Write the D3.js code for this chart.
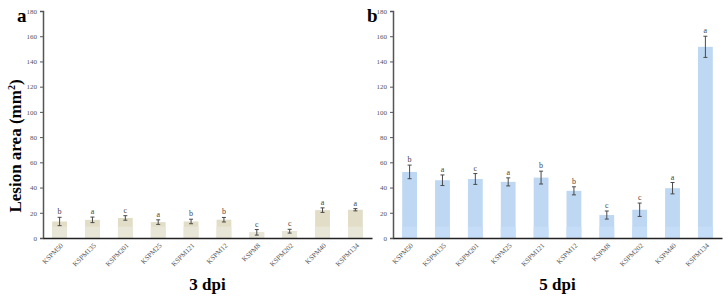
<!DOCTYPE html>
<html>
<head>
<meta charset="utf-8">
<script src="https://cdn.jsdelivr.net/npm/d3@7"></script>
<style>
  body { margin: 0; background: #fff; }
  svg { display: block; font-family: "Liberation Serif", "Times New Roman", serif; }
</style>
</head>
<body>
<script>
// strains, same order in both panels
var strains = ["KSPM50", "KSPM135", "KSPM201", "KSPM25", "KSPM121", "KSPM12", "KSPM8", "KSPM202", "KSPM40", "KSPM134"];
var letters = ["b", "a", "c", "a", "b", "b", "c", "c", "a", "a"];

// lesion area (mm2), mean and error
var dpi3Mean = [13.1, 14.4, 15.9, 12.6, 13.1, 14.5, 4.5, 5.4, 22.1, 22.4];
var dpi3Err  = [3.3, 2.2, 1.8, 1.8, 1.8, 1.8, 2.2, 1.5, 1.8, 0.9];
var dpi5Mean = [52.4, 45.8, 46.8, 44.5, 47.9, 37.4, 18.2, 22.4, 39.5, 151.6];
var dpi5Err  = [5.4, 4.2, 4.3, 3.2, 5.1, 3.2, 3.2, 5.3, 4.5, 8.4];

var yTicks = [0, 20, 40, 60, 80, 100, 120, 140, 160, 180];

window.onload = () => {
    var W = 728, H = 298;
    var svg = d3.select("body").append("svg").attr("width", W).attr("height", H);

    var top = 11, bottom = 238, plotW = 329;

    var y = d3.scaleLinear().domain([0, 180]).range([bottom, top]);

    // y title (shared, left)
    svg.append("text")
        .attr("transform", "translate(21," + 146 + ") rotate(-90)")
        .attr("text-anchor", "middle")
        .style("font-size", "17px")
        .style("font-weight", "bold")
        .html("Lesion area (mm<tspan dy='-6' font-size='10px'>2</tspan><tspan dy='6'>)</tspan>");

    function panel(x0, means, errs, fill, light, tag, title) {
        var g = svg.append("g").attr("transform", "translate(" + x0 + ",0)");
        var x = d3.scaleBand().domain(strains).range([0, plotW]).paddingInner(0.55).paddingOuter(0.28);

        var rows = strains.map(function (s, i) {
            return { s: s, m: means[i], e: errs[i], l: letters[i] };
        });

        // bars
        g.selectAll(".bar").data(rows).enter().append("rect")
            .attr("x", function (d) { return x(d.s); })
            .attr("width", x.bandwidth())
            .attr("y", function (d) { return y(d.m); })
            .attr("height", function (d) { return y(0) - y(d.m); })
            .attr("fill", fill);
        // lighter bottom band of the bars
        g.selectAll(".barlow").data(rows).enter().append("rect")
            .attr("x", function (d) { return x(d.s); })
            .attr("width", x.bandwidth())
            .attr("y", function (d) { return y(Math.min(9, d.m)); })
            .attr("height", function (d) { return y(0) - y(Math.min(9, d.m)); })
            .attr("fill", light);

        // error bars
        var eb = g.selectAll(".err").data(rows).enter().append("g")
            .attr("stroke", "#4a4a4a").attr("stroke-width", 1);
        eb.append("line")
            .attr("x1", function (d) { return x(d.s) + x.bandwidth() / 2; })
            .attr("x2", function (d) { return x(d.s) + x.bandwidth() / 2; })
            .attr("y1", function (d) { return y(d.m - d.e); })
            .attr("y2", function (d) { return y(d.m + d.e); });
        [1, -1].forEach(function (k) {
            eb.append("line")
                .attr("x1", function (d) { return x(d.s) + x.bandwidth() / 2 - 2; })
                .attr("x2", function (d) { return x(d.s) + x.bandwidth() / 2 + 2; })
                .attr("y1", function (d) { return y(d.m + k * d.e); })
                .attr("y2", function (d) { return y(d.m + k * d.e); });
        });

        // significance letters
        g.selectAll(".sig").data(rows).enter().append("text")
            .attr("x", function (d) { return x(d.s) + x.bandwidth() / 2; })
            .attr("y", function (d) { return y(d.m + d.e) - 3; })
            .attr("text-anchor", "middle")
            .style("font-family", "Liberation Serif, serif")
            .style("font-size", "8px")
            .attr("fill", "#444")
            .text(function (d) { return d.l; });

        // y axis
        var ya = g.append("g")
            .call(d3.axisLeft(y).tickValues(yTicks).tickSize(3).tickPadding(3));
        ya.select(".domain").attr("stroke", "#555").attr("stroke-width", 1.5);
        ya.selectAll(".tick line").attr("stroke", "#555");
        ya.selectAll(".tick text").attr("fill", "#555")
            .style("font-family", "Liberation Serif, serif").style("font-size", "7px");

        // x axis
        var xa = g.append("g").attr("transform", "translate(0," + bottom + ")")
            .call(d3.axisBottom(x).tickSize(0).tickPadding(0));
        xa.select(".domain").attr("stroke", "#222").attr("stroke-width", 1.5);
        xa.selectAll(".tick text")
            .attr("fill", "#555")
            .style("font-family", "Liberation Serif, serif").style("font-size", "7px")
            .attr("text-anchor", "end")
            .attr("dy", 0)
            .attr("transform", "translate(4,8) rotate(-45)");

        // panel letter
        g.append("text").attr("x", -26).attr("y", 22)
            .style("font-size", "19px").style("font-weight", "bold").text(tag);

        // x title
        g.append("text").attr("x", plotW / 2).attr("y", 290)
            .attr("text-anchor", "middle")
            .style("font-size", "17px").style("font-weight", "bold").text(title);
    }

    panel(43, dpi3Mean, dpi3Err, "#e2ddc7", "#e8e6d7", "a", "3 dpi");
    panel(393, dpi5Mean, dpi5Err, "#bed7f2", "#c6ddf8", "b", "5 dpi");
};
</script>
</body>
</html>
